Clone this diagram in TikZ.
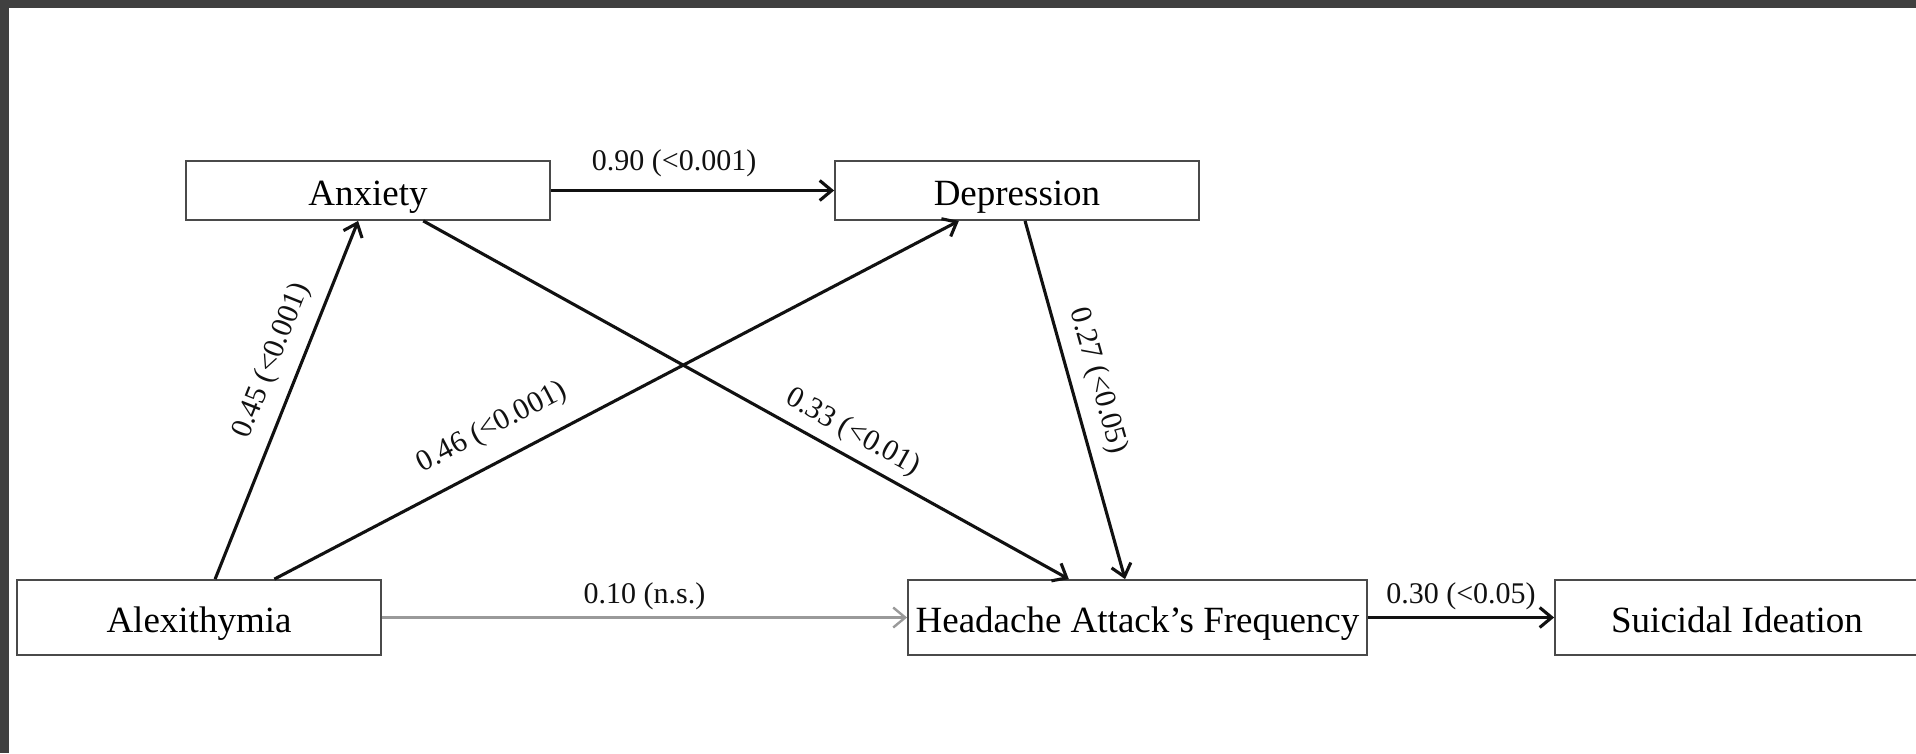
\documentclass[tikz,border=0pt]{standalone}
\usepackage{fontspec}
\setmainfont{Liberation Serif}
\usetikzlibrary{arrows.meta,calc}
\definecolor{framegray}{HTML}{404040}
\definecolor{boxgray}{HTML}{4A4A4A}
\definecolor{arrgray}{HTML}{9A9A9A}
\definecolor{ink}{HTML}{111111}
\begin{document}
\begin{tikzpicture}[x=1pt,y=-1pt,
  box/.style={draw=boxgray,line width=1.8pt,rectangle,inner sep=0pt,minimum width=364pt,fill=white,font=\fontsize{37}{44}\selectfont,text height=29pt,text depth=0pt},
  arr/.style={draw=ink,line width=3.1pt,-{Straight Barb[length=12pt,width=20pt]}},
  grayarr/.style={draw=arrgray,line width=2.4pt,-{Straight Barb[length=12pt,width=20pt]}},
  lab/.style={font=\fontsize{30}{36}\selectfont,inner sep=0pt,sloped,text=ink},
]
\useasboundingbox (0,0) rectangle (1916,753);
\begin{scope}
\clip (0,0) rectangle (1916,753);
\fill[white] (0,0) rectangle (1916,753);
\fill[framegray] (0,0) rectangle (1916,8);
\fill[framegray] (0,0) rectangle (8.5,753);

\node[box,minimum height=59pt] (anx) at (368,190.5) {Anxiety};
\node[box,minimum height=59pt] (dep) at (1017,190.5) {Depression};
\node[box,minimum height=75pt] (alex) at (199,617.5) {Alexithymia};
\node[box,minimum height=75pt,minimum width=459pt] (head) at (1137.5,617.5) {Headache Attack’s Frequency};
\node[box,minimum height=75pt] (sui) at (1737,617.5) {Suicidal Ideation};

\draw[arr] (anx.east) -- node[lab,pos=0.435,above=12pt]{0.90 (<0.001)} (dep.west);
\draw[arr] ($(alex.north west)!0.544!(alex.north east)$) -- node[lab,pos=0.58,above=13pt]{0.45 (<0.001)} ($(anx.south west)!0.473!(anx.south east)$);
\draw[arr] ($(alex.north west)!0.706!(alex.north east)$) -- node[lab,pos=0.341,above=18pt]{0.46 (<0.001)} ($(dep.south west)!0.341!(dep.south east)$);
\draw[arr] ($(anx.south west)!0.651!(anx.south east)$) -- node[lab,pos=0.648,above=8pt]{0.33 (<0.01)} ($(head.north west)!0.351!(head.north east)$);
\draw[arr] ($(dep.south west)!0.522!(dep.south east)$) -- node[lab,pos=0.467,above=12pt]{0.27 (<0.05)} ($(head.north west)!0.473!(head.north east)$);
\draw[grayarr] (alex.east) -- node[lab,pos=0.5,above=6pt]{0.10 (n.s.)} (head.west);
\draw[arr] (head.east) -- node[lab,pos=0.5,above=6pt]{0.30 (<0.05)} (sui.west);
\end{scope}
\end{tikzpicture}
\end{document}
